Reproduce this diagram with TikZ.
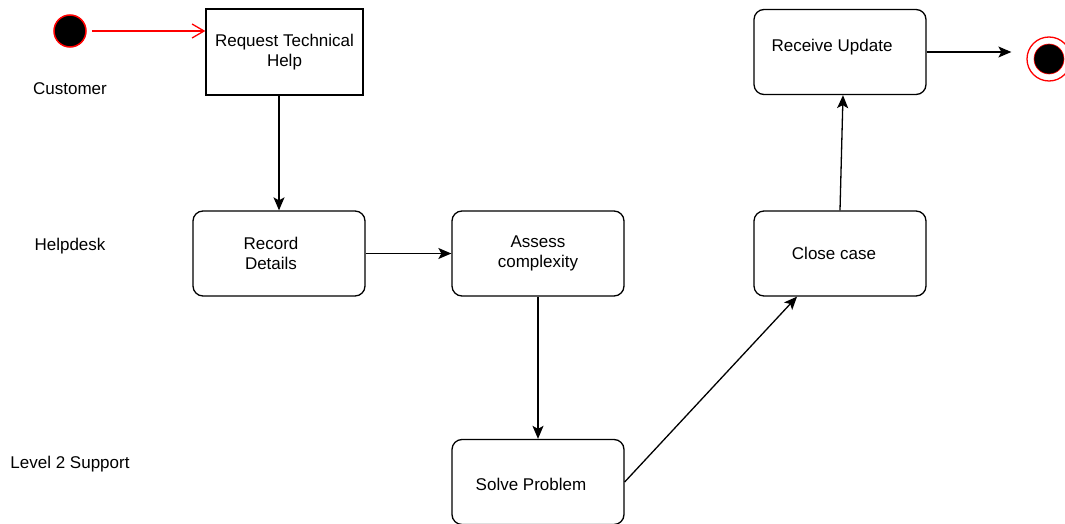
\documentclass[tikz,border=0pt]{standalone}
\usepackage{fontspec}
\setmainfont{Liberation Sans}
\usetikzlibrary{arrows.meta}

\begin{document}
\begin{tikzpicture}[x=1pt, y=1pt, line width=1.3pt,
    font=\fontsize{17}{20}\selectfont,
    >={Stealth[length=13pt, width=11pt, inset=3pt]}]
        \useasboundingbox (0, 0) rectangle (1065, -524);

        {\tikzstyle{every node}=[align=center]
          \foreach \lane/\y [count=\i] in {Customer/-89, Helpdesk/-246, Level 2 Support/-464}
          {
            \node (lane\i) at (70, \y) {\lane};
          }
        }

        {\tikzstyle{every node}=[draw, rounded corners=10pt, align=center,
            minimum width=172pt, minimum height=85pt, inner sep=0pt]
          \node [rounded corners=0pt, minimum width=157pt, minimum height=86pt]
            (req) at (284.5, -52) {Request Technical\\Help};
          \node (rec) at (279, -253.5) {Record\hspace*{16pt}\\Details\hspace*{16pt}};
          \node (assess) at (538, -253.5) {Assess\\complexity};
          \node [text height=20pt, text depth=4pt] (solve) at (538, -482) {Solve Problem\hspace*{14pt}};
          \node (close) at (840, -253.5) {Close case\hspace*{12pt}};
          \node [text height=12pt, text depth=12pt] (recv) at (840, -52) {Receive Update\hspace*{16pt}};
        }

        {\tikzstyle{every node}=[circle, draw=red, inner sep=0pt]
          \node [fill=black, minimum size=32pt, line width=1.5pt] (start) at (70, -31) {};
          \node [minimum size=44pt] (stop) at (1049, -59) {};
          \node [fill=black, minimum size=30pt, line width=0.6pt] (stopdot) at (stop) {};
        }

        \draw [red, -{Straight Barb[length=12pt, width=14pt]}, shorten <=5pt]
          (start) -- (req.west |- start);

        \draw [->] (rec.north |- req.south) -- (rec.north);
        \draw [->] (rec.east) -- (assess.west);
        \draw [->] (assess.south) -- (solve.north);
        \draw [->] (solve.east) -- ([xshift=-43pt]close.south);
        \draw [->] (close.north) -- ([xshift=3pt]recv.south);
        \draw [->, shorten >=15pt] (recv.east) -- (stop.west |- recv.east);
\end{tikzpicture}
\end{document}
